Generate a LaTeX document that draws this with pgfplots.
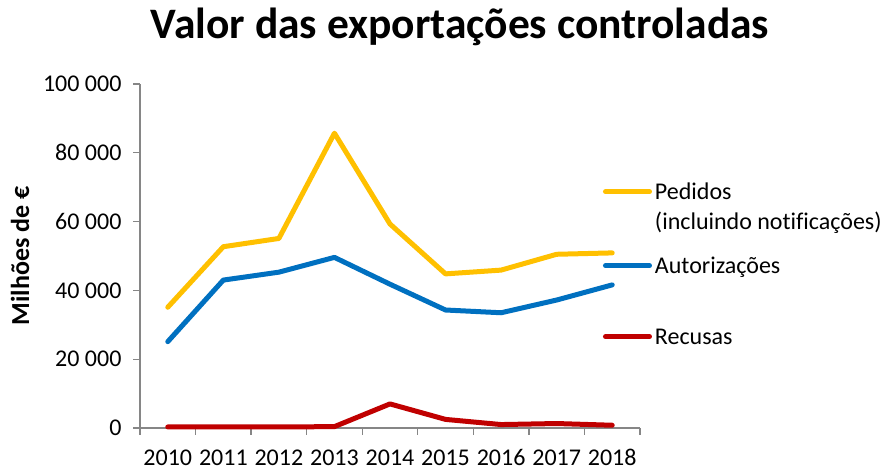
\documentclass[border=0pt]{standalone}
\usepackage{fontspec}
\setmainfont{Carlito}[Ligatures=NoCommon]
\usepackage{pgfplots}
\pgfplotsset{compat=1.18}
\definecolor{ped}{HTML}{FFC000}
\definecolor{aut}{HTML}{0070C0}
\definecolor{rec}{HTML}{C00000}
\definecolor{axgray}{HTML}{868686}

\begin{document}
\begin{tikzpicture}
\path[use as bounding box] (0,0) rectangle (882pt,468pt);
\begin{axis}[
  at={(140pt,40pt)}, anchor=south west,
  scale only axis, width=500pt, height=344pt,
  xmin=-0.5, xmax=8.5, ymin=0, ymax=100000,
  clip=false,
  axis lines*=left,
  axis line style={draw=axgray, line width=1.3pt},
  tick style={draw=axgray, line width=1.3pt},
  tick align=outside, major tick length=7pt,
  xtick={-0.5,0.5,...,8.5}, xticklabels={},
  extra x ticks={0,1,...,8},
  extra x tick labels={2010,2011,2012,2013,2014,2015,2016,2017,2018},
  extra x tick style={major tick length=0pt,
    xticklabel style={anchor=base, inner sep=0pt, text depth=0pt, yshift=-37pt}},
  scaled y ticks=false,
  ytick={0,20000,40000,60000,80000,100000},
  yticklabels={0,20 000,40 000,60 000,80 000,100 000},
  yticklabel style={xshift=-8pt},
  tick label style={font=\fontsize{24}{29}\selectfont},
  title={Valor das exportações controladas},
  title style={font=\fontsize{43.5}{50}\selectfont\bfseries,
    at={(axis description cs:0.64,1)}, anchor=base, yshift=39pt},
  ylabel={Milhões de €},
  ylabel style={font=\fontsize{26}{30}\selectfont\bfseries,
    at={(axis description cs:-0.24,0.5)}, anchor=center},
  legend image code/.code={\draw[#1,line cap=round] (0pt,8pt) -- (44pt,8pt);},
  legend style={at={(axis description cs:0.926,0.712)}, anchor=north west,
    draw=none, fill=none, inner sep=0pt, outer sep=0pt,
    row sep=0pt, column sep=3pt,
    font=\fontsize{24}{29}\selectfont,
    cells={anchor=base west},
    nodes={inner sep=0pt, outer sep=0pt, text depth=0pt}},
  every axis plot/.append style={line width=5pt, line join=round, line cap=round},
]
\addplot[ped] coordinates {(0,35100) (1,52700) (2,55100) (3,85700) (4,59300) (5,44800) (6,45900) (7,50500) (8,50900)};
\addlegendentry{Pedidos}
\addlegendimage{empty legend}
\addlegendentry{\rule{0pt}{30pt}(incluindo notificações)}
\addplot[aut] coordinates {(0,25100) (1,43000) (2,45300) (3,49600) (4,41800) (5,34300) (6,33500) (7,37200) (8,41600)};
\addlegendentry{\rule{0pt}{44pt}Autorizações}
\addplot[rec] coordinates {(0,300) (1,300) (2,300) (3,400) (4,7000) (5,2500) (6,1000) (7,1300) (8,800)};
\addlegendentry{\rule{0pt}{71pt}Recusas}
\end{axis}
\end{tikzpicture}
\end{document}
